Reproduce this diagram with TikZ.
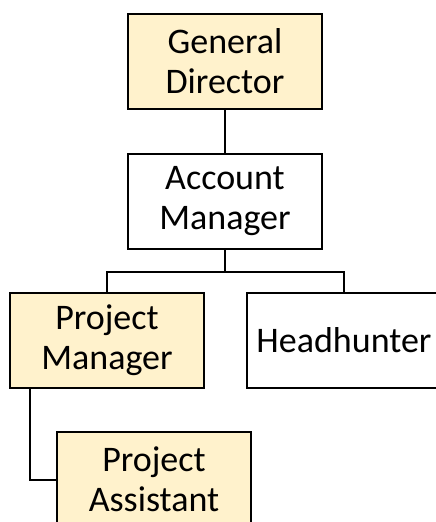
\documentclass[tikz,border=0pt]{standalone}
\usepackage{fontspec}
\setmainfont{Carlito}
\definecolor{boxyellow}{HTML}{FFF2CC}
\begin{document}
\begin{tikzpicture}[x=1pt,y=1pt,
  box/.style={draw=black, line width=2pt, minimum width=194pt, minimum height=95pt,
    inner sep=0pt, outer sep=0pt, align=center, font=\fontsize{36}{40}\selectfont},
  ybox/.style={box, fill=boxyellow},
  wbox/.style={box, fill=white},
  conn/.style={draw=black, line width=2pt}]
\useasboundingbox (0,0) rectangle (436,-522);
\clip (0,0) rectangle (436,-522);
\node[ybox] (GD) at (225,-61.5) {General\\Director};
\node[wbox] (AM) at (225,-201) {Account\\Manager};
\node[ybox] (PM) at (107,-340) {Project\\Manager};
\node[wbox] (HH) at (344,-340) {Headhunter};
\node[ybox] (PA) at (154,-479.5) {Project\\Assistant};
\coordinate (bus) at (225,-272);
\draw[conn] (GD.south) -- (AM.north);
\draw[conn] (AM.south) -- (bus);
\draw[conn] (PM.north) |- (bus) -| (HH.north);
\draw[conn] ([xshift=20pt]PM.south west) |- (PA.west);
\end{tikzpicture}
\end{document}
